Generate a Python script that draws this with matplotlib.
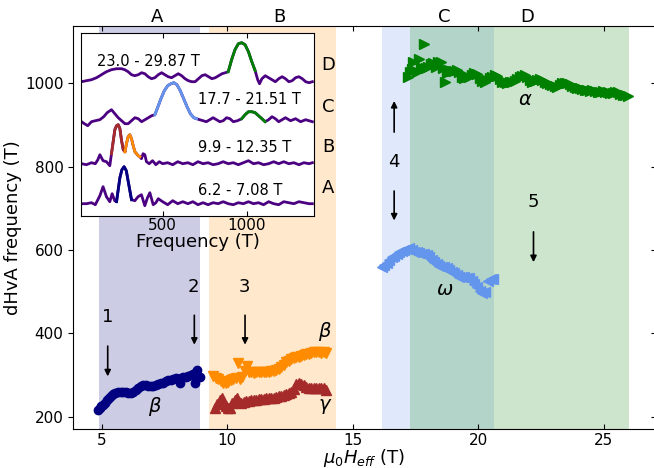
import numpy as np
import matplotlib
matplotlib.use('Agg')
import matplotlib.pyplot as plt

plt.rcParams['font.family'] = ['DejaVu Sans']

# main panel data: field (T) vs dHvA frequency (T)
beta1_x = [4.86, 4.92, 4.98, 5.05, 5.12, 5.2, 5.28, 5.36, 5.45, 5.55, 5.65, 5.75, 5.85, 5.95, 6.05,
           6.15, 6.25, 6.35, 6.45, 6.55, 6.65, 6.75, 6.85, 6.95, 7.05, 7.15, 7.25, 7.35, 7.45, 7.55,
           7.65, 7.75, 7.85, 7.95, 8.05, 8.1, 8.15, 8.25, 8.35, 8.45, 8.55, 8.65, 8.7, 8.75, 8.8, 8.9]
beta1_y = [216, 220, 225, 229, 234, 240, 245, 250, 255, 258, 260, 260, 259, 259, 257,
           256, 260, 265, 269, 274, 276, 275, 273, 273, 274, 276, 278, 280, 282, 285,
           287, 289, 291, 292, 290, 282, 293, 295, 296, 298, 300, 303, 282, 308, 311, 295]

beta2_x = [9.45, 9.55, 9.65, 9.75, 9.85, 9.95, 10.05, 10.15, 10.25, 10.35, 10.42, 10.5, 10.6, 10.7,
           10.8, 10.85, 10.95, 11.05, 11.15, 11.25, 11.35, 11.45, 11.55, 11.65, 11.75, 11.85, 11.95,
           12.05, 12.15, 12.25, 12.35, 12.45, 12.55, 12.65, 12.75, 12.85, 12.95, 13.05, 13.15, 13.25,
           13.35, 13.45, 13.55, 13.65, 13.75, 13.85, 13.95]
beta2_y = [298, 292, 290, 286, 282, 280, 284, 288, 290, 292, 328, 290, 296, 310,
           322, 306, 306, 304, 306, 306, 306, 306, 307, 308, 309, 310, 312,
           314, 318, 324, 330, 334, 338, 340, 342, 344, 346, 348, 350, 350,
           352, 354, 356, 354, 352, 354, 352]

gamma_x = [9.5, 9.6, 9.7, 9.78, 9.85, 9.95, 10.05, 10.12, 10.2, 10.3, 10.38, 10.45, 10.55, 10.65,
           10.75, 10.85, 10.95, 11.05, 11.15, 11.25, 11.35, 11.45, 11.55, 11.65, 11.75, 11.85, 11.95,
           12.05, 12.15, 12.25, 12.35, 12.45, 12.55, 12.65, 12.75, 12.85, 12.95, 13.05, 13.15, 13.25,
           13.35, 13.45, 13.55, 13.65, 13.75, 13.85, 13.95]
gamma_y = [220, 230, 240, 244, 232, 226, 222, 222, 232, 240, 246, 236, 234, 236,
           238, 238, 240, 240, 241, 242, 242, 243, 244, 244, 245, 246, 248,
           249, 250, 252, 254, 256, 260, 266, 278, 280, 278, 276, 272, 270,
           270, 270, 268, 270, 268, 268, 264]

alpha_x = [17.22, 17.3, 17.35, 17.42, 17.55, 17.62, 17.7, 17.84, 17.9, 18.0, 18.1, 18.2, 18.3, 18.4,
           18.5, 18.6, 18.68, 18.75, 18.85, 18.95, 19.05, 19.15, 19.25, 19.35, 19.45, 19.55, 19.65,
           19.75, 19.85, 19.95, 20.05, 20.15, 20.25, 20.35, 20.45, 20.55, 20.65, 20.75, 20.85, 20.95,
           21.05, 21.15, 21.25, 21.35, 21.45, 21.55, 21.65, 21.75, 21.85, 21.95, 22.05, 22.15, 22.25,
           22.35, 22.45, 22.55, 22.65, 22.75, 22.85, 22.95, 23.05, 23.15, 23.25, 23.35, 23.45, 23.55,
           23.65, 23.75, 23.85, 23.95, 24.05, 24.15, 24.25, 24.35, 24.45, 24.55, 24.65, 24.75, 24.85,
           24.95, 25.05, 25.15, 25.25, 25.35, 25.45, 25.55, 25.65, 25.75, 25.85, 25.95]
alpha_y = [1016, 1028, 1034, 1050, 1028, 1058, 1040, 1094, 1036, 1040, 1046, 1048, 1040, 1052,
           1050, 1036, 1004, 1024, 1032, 1030, 1030, 1032, 1026, 1016, 1012, 1014, 1016,
           1020, 1024, 1022, 1012, 1006, 1004, 1008, 1012, 1016, 1020, 1018, 1010, 1004,
           1002, 1000, 1002, 1004, 1006, 1010, 1014, 1018, 1020, 1014, 1008, 1004, 1006,
           1008, 1010, 1008, 1004, 1000, 998, 996, 994, 992, 996, 1000, 1000, 1000,
           998, 994, 990, 988, 988, 986, 984, 984, 982, 984, 982, 980, 980,
           982, 980, 978, 976, 976, 980, 978, 974, 972, 972, 970]

omega_x = [16.15, 16.25, 16.35, 16.45, 16.55, 16.65, 16.75, 16.85, 16.95, 17.05, 17.15, 17.25, 17.35,
           17.45, 17.55, 17.65, 17.75, 17.85, 17.95, 18.05, 18.15, 18.25, 18.35, 18.45, 18.55, 18.65,
           18.75, 18.85, 18.95, 19.05, 19.15, 19.25, 19.35, 19.45, 19.55, 19.65, 19.75, 19.85, 19.95,
           20.05, 20.15, 20.25, 20.4, 20.5, 20.6]
omega_y = [560, 564, 568, 576, 582, 586, 590, 594, 598, 600, 602, 604, 600,
           596, 594, 592, 590, 590, 588, 584, 576, 570, 566, 562, 560, 558,
           556, 552, 548, 544, 540, 536, 534, 534, 532, 532, 526, 518, 512,
           502, 496, 500, 526, 530, 530]

# field windows A-D
span_lo = [4.89, 9.27, 16.17, 17.27]
span_hi = [8.92, 14.33, 20.62, 26.0]
span_col = ['navy', 'darkorange', 'cornflowerblue', 'green']
span_names = ['A', 'B', 'C', 'D']
span_name_x = [7.19, 12.08, 18.65, 21.95]

# inset FFT traces (frequency, amplitude in arbitrary units incl. offset)
fA = [18, 47, 77, 100, 127, 146, 166, 186, 200, 215, 226, 246, 258, 271, 284, 300, 315, 335, 354, 374,
      394, 410, 424, 444, 460, 474, 500, 530, 560, 590, 620, 650, 680, 710, 740, 770, 800, 830, 860,
      890, 920, 950, 980, 1010, 1040, 1070, 1100, 1130, 1160, 1190, 1220, 1250, 1280, 1310, 1340, 1370, 1390]
aA = [12, 12, 13, 11, 20, 29, 19, 14, 22, 15, 14, 38, 46, 49, 45, 30, 16, 15, 19, 21,
      10, 18, 23, 11, 13, 17, 14, 11, 15, 12, 14, 12, 14, 11, 13, 11, 13, 12, 14,
      12, 11, 13, 12, 14, 12, 13, 11, 14, 12, 11, 14, 13, 12, 14, 13, 12, 12]

fB = [18, 47, 77, 100, 115, 127, 146, 166, 186, 196, 206, 216, 226, 236, 246, 256, 266, 276, 285, 295,
      305, 315, 325, 335, 345, 355, 365, 374, 384, 394, 404, 420, 440, 460, 480, 500, 530, 560, 590,
      620, 650, 680, 710, 740, 770, 800, 830, 860, 890, 920, 950, 980, 1010, 1040, 1070, 1100, 1130,
      1160, 1190, 1220, 1250, 1280, 1310, 1340, 1370, 1390]
aB = [52, 51, 53, 52, 56, 61, 55, 54, 50, 62, 74, 86, 90, 91, 87, 75, 66, 64, 72, 79,
      81, 77, 70, 64, 62, 60, 59, 57, 62, 61, 54, 52, 55, 51, 54, 52, 53, 51, 54,
      52, 53, 51, 54, 52, 53, 51, 52, 54, 52, 53, 51, 53, 55, 52, 53, 51, 52,
      54, 52, 54, 52, 53, 51, 53, 52, 53]

fC = [18, 35, 55, 77, 100, 127, 150, 170, 196, 216, 236, 256, 276, 295, 315, 335, 355, 375, 395, 415,
      435, 454, 470, 490, 510, 530, 550, 567, 585, 605, 625, 645, 665, 685, 702, 720, 740, 760, 780,
      800, 820, 840, 860, 880, 900, 920, 945, 970, 990, 1010, 1030, 1050, 1070, 1090, 1109, 1130,
      1150, 1170, 1190, 1210, 1230, 1260, 1290, 1320, 1350, 1390]
aC = [94, 92, 90, 94, 95, 96, 99, 103, 106, 102, 98, 95, 92, 92, 95, 98, 97, 94, 96, 98,
      100, 101, 108, 117, 125, 130, 132, 133, 131, 125, 117, 109, 102, 98, 97, 96, 95, 94, 96,
      98, 96, 94, 95, 98, 97, 94, 95, 97, 101, 104, 104, 103, 100, 97, 94, 96,
      99, 97, 94, 96, 98, 95, 97, 94, 96, 94]

fD = [18, 47, 77, 107, 127, 146, 166, 196, 226, 256, 275, 295, 315, 335, 355, 375, 394, 414, 434, 454,
      474, 494, 513, 533, 553, 573, 593, 613, 633, 653, 673, 693, 713, 733, 753, 773, 793, 813, 833,
      853, 873, 890, 910, 930, 950, 970, 990, 1010, 1030, 1050, 1065, 1076, 1090, 1110, 1130, 1150,
      1170, 1190, 1210, 1230, 1250, 1270, 1290, 1310, 1330, 1350, 1370, 1390]
aD = [134, 135, 136, 138, 140, 142, 144, 146, 147, 147, 146, 144, 141, 140, 141, 143, 142, 139, 137, 138,
      141, 143, 141, 139, 138, 140, 142, 140, 137, 135, 134, 134, 137, 140, 141, 139, 137, 138, 140,
      142, 143, 144, 156, 166, 172, 173, 171, 164, 154, 145, 136, 132, 137, 140, 138, 136,
      134, 137, 139, 137, 134, 135, 138, 139, 137, 134, 133, 134]

# highlighted peak ranges (f_lo, f_hi, colour) per trace
peaksA = [(226, 315, 'navy')]
peaksB = [(196, 276, 'brown'), (276, 365, 'darkorange')]
peaksC = [(454, 702, 'cornflowerblue'), (970, 1109, 'green')]
peaksD = [(890, 1050, 'green')]
inset_labels = ['6.2 - 7.08 T', '9.9 - 12.35 T', '17.7 - 21.51 T', '23.0 - 29.87 T']


fig = plt.figure(figsize=(6.54, 4.68), dpi=100)
ax = fig.add_axes([0.1121, 0.0823, 0.8902, 0.8611])

for lo, hi, c in zip(span_lo, span_hi, span_col):
    ax.axvspan(lo, hi, color=c, alpha=0.2, lw=0, zorder=0)

ax.plot(beta1_x, beta1_y, 'o', color='navy', ms=6, zorder=3)
ax.plot(beta2_x, beta2_y, 'v', color='darkorange', ms=7, zorder=3)
ax.plot(gamma_x, gamma_y, '^', color='brown', ms=7, zorder=3)
ax.plot(alpha_x, alpha_y, '>', color='green', ms=7, zorder=3)
ax.plot(omega_x, omega_y, '<', color='cornflowerblue', ms=7, zorder=3)

ax.set_xlim(3.87, 27.06)
ax.set_ylim(169.3, 1136)
ax.set_xticks([5, 10, 15, 20, 25])
ax.set_yticks([200, 400, 600, 800, 1000])
ax.tick_params(axis='x', direction='in', top=True, labelsize=11, pad=2.5)
ax.tick_params(axis='y', direction='out', labelsize=11)
sec = ax.secondary_yaxis('right')
sec.set_yticks([200, 400, 600, 800, 1000])
sec.tick_params(direction='in', labelright=False)
ax.set_xlabel(r'$\mu_0H_{eff}$ (T)', fontsize=13, labelpad=-1)
ax.set_ylabel('dHvA frequency (T)', fontsize=13, labelpad=2)

for nm, xx in zip(span_names, span_name_x):
    ax.text(xx, 1.024, nm, transform=ax.get_xaxis_transform(), ha='center', va='center', fontsize=13)

# arrows and labels
arr = dict(arrowstyle='-|>', color='black', lw=1.2, mutation_scale=9)
ax.annotate('', xy=(5.24, 290), xytext=(5.24, 376), arrowprops=arr)
ax.text(5.24, 440, '1', ha='center', va='center', fontsize=13)
ax.annotate('', xy=(8.69, 366), xytext=(8.69, 450), arrowprops=arr)
ax.text(8.65, 512, '2', ha='center', va='center', fontsize=13)
ax.annotate('', xy=(10.71, 366), xytext=(10.71, 450), arrowprops=arr)
ax.text(10.68, 512, '3', ha='center', va='center', fontsize=13)
ax.annotate('', xy=(16.65, 964), xytext=(16.65, 876), arrowprops=arr)
ax.annotate('', xy=(16.65, 664), xytext=(16.65, 748), arrowprops=arr)
ax.text(16.65, 812, '4', ha='center', va='center', fontsize=13)
ax.annotate('', xy=(22.2, 564), xytext=(22.2, 650), arrowprops=arr)
ax.text(22.2, 714, '5', ha='center', va='center', fontsize=13)

ax.text(7.12, 224, r'$\beta$', ha='center', va='center', fontsize=14)
ax.text(13.9, 404, r'$\beta$', ha='center', va='center', fontsize=14)
ax.text(13.9, 224, r'$\gamma$', ha='center', va='center', fontsize=14)
ax.text(21.86, 960, r'$\alpha$', ha='center', va='center', fontsize=14)
ax.text(18.68, 504, r'$\omega$', ha='center', va='center', fontsize=14)

for nm, yy in zip(['D', 'C', 'B', 'A'], [1044, 944, 847, 749]):
    ax.text(14.02, yy, nm, ha='center', va='center', fontsize=13)

# inset with FFT spectra
ins = fig.add_axes([0.1239, 0.5391, 0.3563, 0.3897])
ins.set_facecolor('white')
for f, a, pk in [(fA, aA, peaksA), (fB, aB, peaksB), (fC, aC, peaksC), (fD, aD, peaksD)]:
    f = np.array(f)
    a = np.array(a)
    ins.plot(f, a, color='indigo', lw=2)
    for lo, hi, c in pk:
        m = (f >= lo) & (f <= hi)
        ins.plot(f[m], a[m], color=c, lw=2)

ins.text(107, 154, inset_labels[3], ha='left', va='center', fontsize=10.5)
ins.text(708, 116.7, inset_labels[2], ha='left', va='center', fontsize=10.5)
ins.text(708, 68, inset_labels[1], ha='left', va='center', fontsize=10.5)
ins.text(708, 25.7, inset_labels[0], ha='left', va='center', fontsize=10.5)

ins.set_xlim(15, 1400)
ins.set_ylim(0, 182.4)
ins.set_xticks([500, 1000])
ins.set_yticks([])
ins.tick_params(axis='x', direction='in', top=True, labelsize=11, pad=2)
ins.set_xlabel('Frequency (T)', fontsize=13, labelpad=0)

fig.savefig('out.png', dpi=100)
